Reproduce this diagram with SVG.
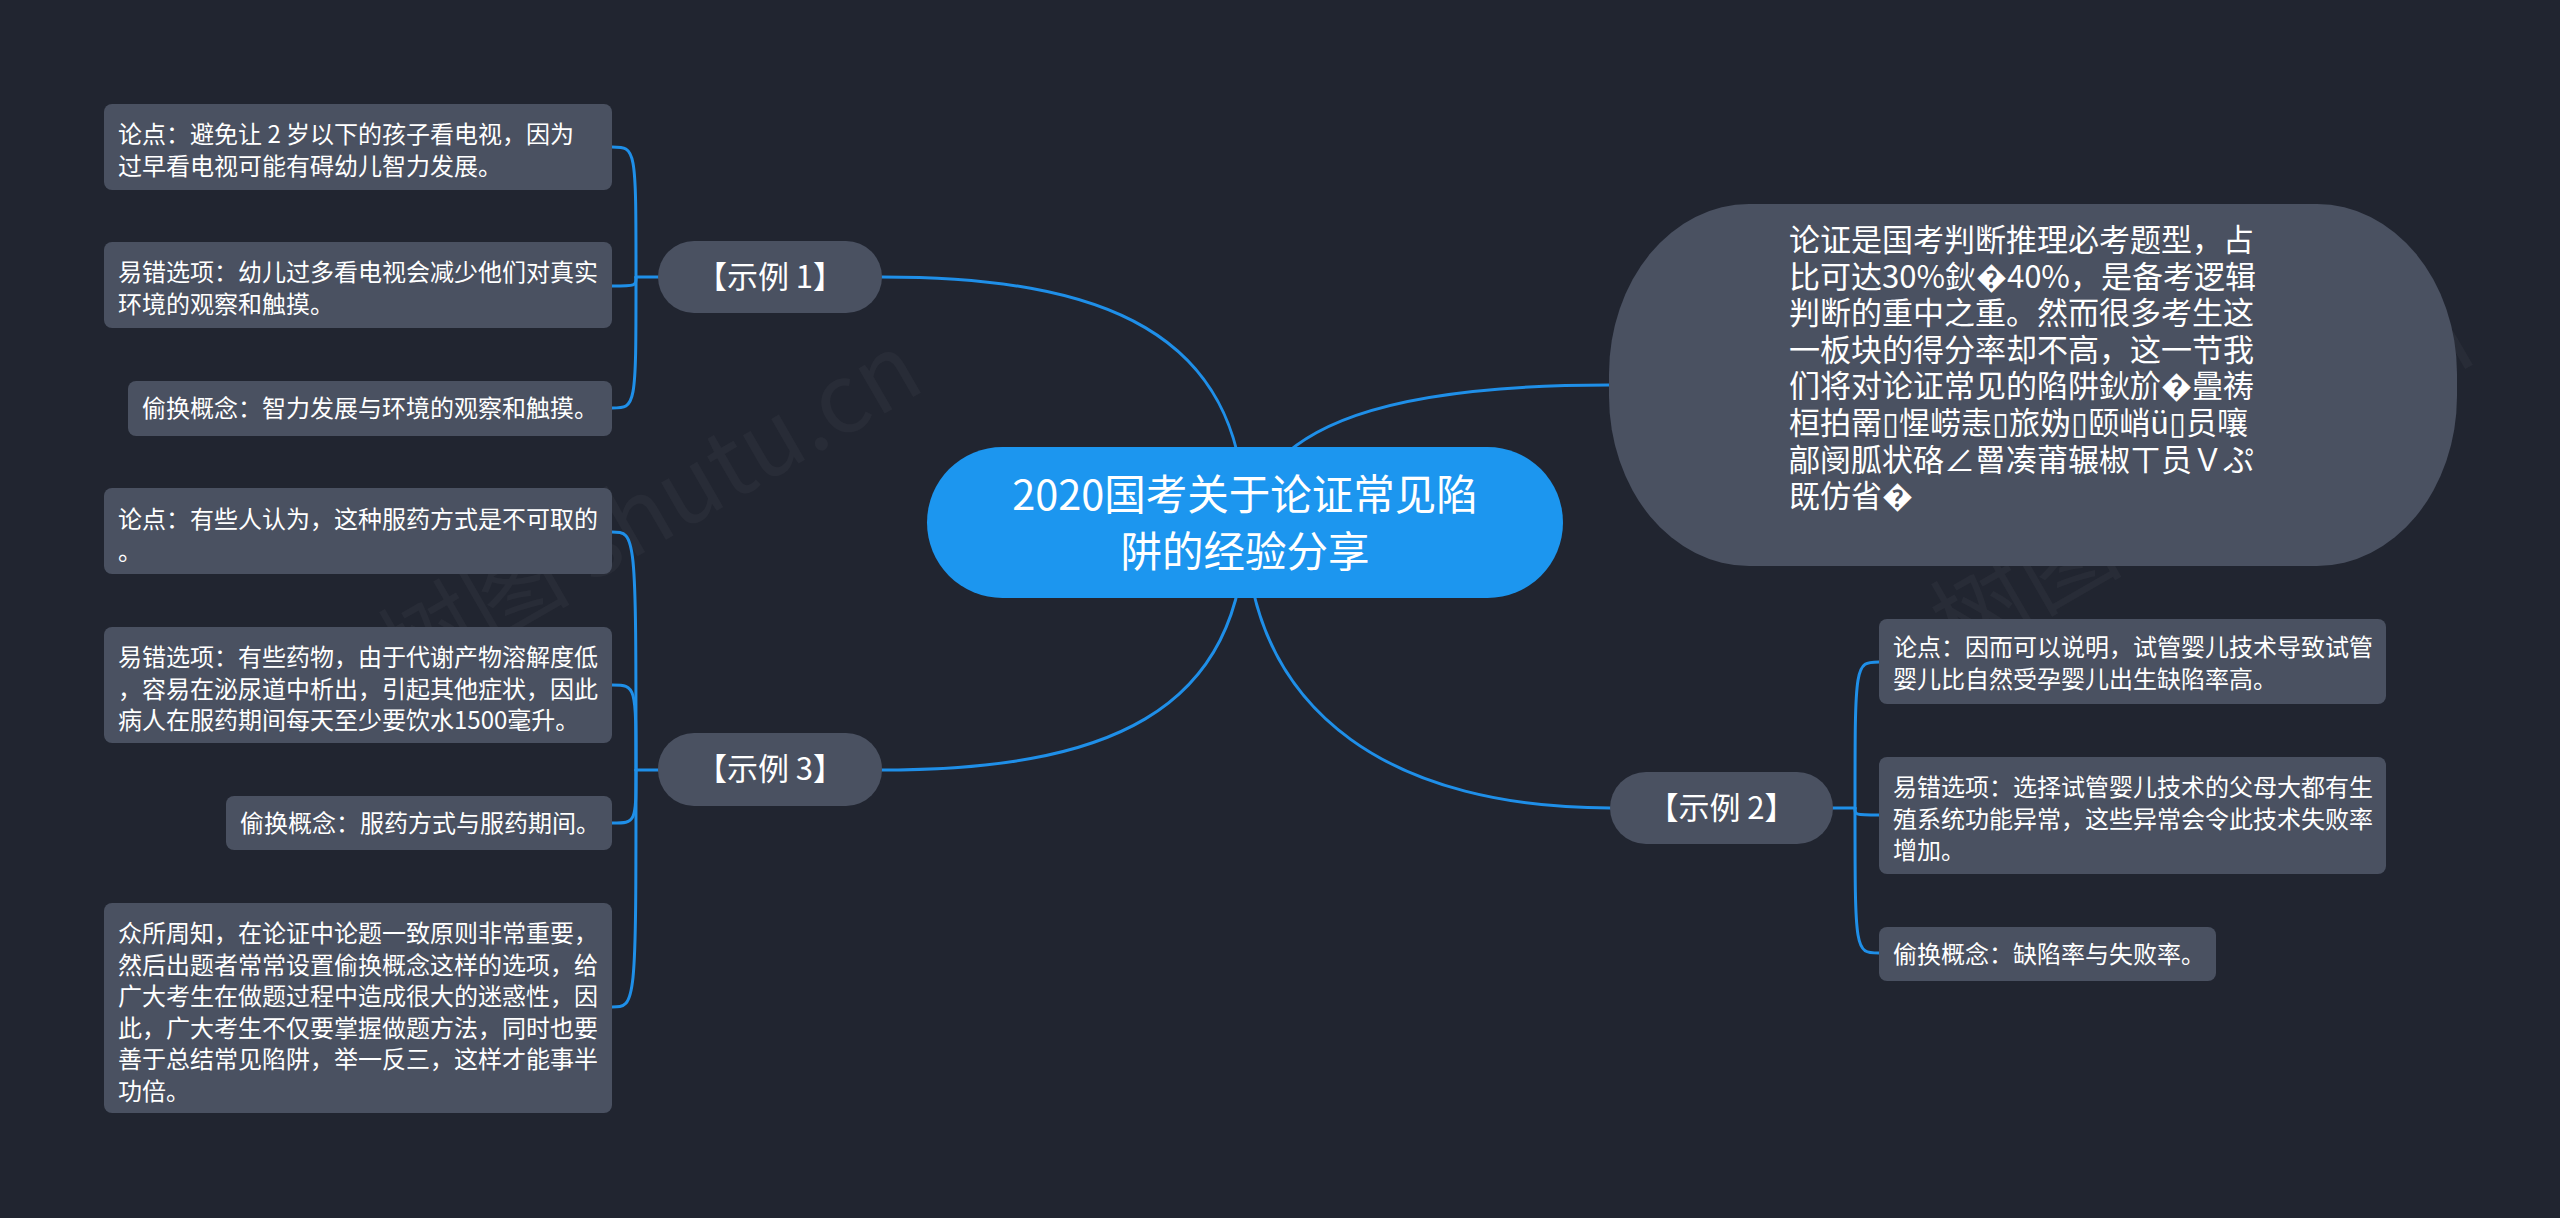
<svg xmlns="http://www.w3.org/2000/svg" width="2560" height="1218" viewBox="0 0 2560 1218">
<style>
.bg{fill:#212530}
.box{fill:#4a5161}
.root{fill:#1c96ef}
.t{font-family:"Noto Sans CJK SC","Noto Sans","DejaVu Sans",sans-serif;fill:#ffffff}
.s{font-size:24px}
.m{font-size:31px;text-anchor:middle}
.b{font-size:31px}
.r{font-size:41.5px;text-anchor:middle}
.c{fill:none;stroke:#1f8fe8;stroke-width:3;stroke-linecap:round}
.wm{font-family:"Noto Sans CJK SC","Noto Sans",sans-serif;font-size:96px;fill:#ffffff;fill-opacity:0.035}
</style>
<rect class="bg" x="0" y="0" width="2560" height="1218"/>
<text class="wm" transform="translate(406,690) rotate(-30)">树图 shutu.cn</text>
<text class="wm" transform="translate(1958,662) rotate(-30)">树图 shutu.cn</text>
<g id="connectors">
<path class="c" d="M1245 523 C1245 330 1100 277 882 277"/>
<path class="c" d="M1245 523 C1245 716 1100 770 882 770"/>
<path class="c" d="M1245 523 C1265 420 1400 385 1609 385"/>
<path class="c" d="M1245 523 C1250 720 1400 808 1610 808"/>
<path class="c" d="M658 277 H636"/>
<path class="c" d="M636 277 C636 147 636 147 612 147"/>
<path class="c" d="M636 277 C636 286 636 286 612 286"/>
<path class="c" d="M636 277 C636 408 636 408 612 408"/>
<path class="c" d="M658 770 H636"/>
<path class="c" d="M636 770 C636 532 636 532 612 532"/>
<path class="c" d="M636 770 C636 685 636 685 612 685"/>
<path class="c" d="M636 770 C636 823 636 823 612 823"/>
<path class="c" d="M636 770 C636 1007 636 1007 612 1007"/>
<path class="c" d="M1833 808 H1855"/>
<path class="c" d="M1855 808 C1855 662 1855 662 1879 662"/>
<path class="c" d="M1855 808 C1855 815 1855 815 1879 815"/>
<path class="c" d="M1855 808 C1855 953 1855 953 1879 953"/>
</g>
<g id="root">
<rect class="root" x="927" y="447" width="636" height="151" rx="75.5"/>
<text class="t r"><tspan x="1245" y="510">2020国考关于论证常见陷</tspan><tspan x="1245" y="567">阱的经验分享</tspan></text>
</g>
<g id="intro">
<rect class="box" x="1609" y="204" width="848" height="362" rx="140" ry="170"/>
<text class="t b"><tspan x="1789" y="251">论证是国考判断推理必考题型，占</tspan><tspan x="1789" y="287.6">比可达30%鈥�40%，是备考逻辑</tspan><tspan x="1789" y="324.2">判断的重中之重。然而很多考生这</tspan><tspan x="1789" y="360.8">一板块的得分率却不高，这一节我</tspan><tspan x="1789" y="397.4">们将对论证常见的陷阱鈥斺�曡祷</tspan><tspan x="1789" y="434">桓拍罱▯惺崂恚▯旅妫▯颐峭ü▯员嚷</tspan><tspan x="1789" y="470.6">鄗阌胍状硌∠罾凑莆辗椒ㄒ员Ｖぷ</tspan><tspan x="1789" y="507.2">既仿省�</tspan></text>
</g>
<g id="ex1">
<rect class="box" x="658" y="241" width="224" height="72" rx="36"/>
<text class="t m" x="770" y="288">【示例 1】</text>
</g>
<g id="ex1-a">
<rect class="box" x="104" y="104" width="508" height="86" rx="8"/>
<text class="t s"><tspan x="118" y="143">论点：避免让 2 岁以下的孩子看电视，因为</tspan><tspan x="118" y="175">过早看电视可能有碍幼儿智力发展。</tspan></text>
</g>
<g id="ex1-b">
<rect class="box" x="104" y="242" width="508" height="86" rx="8"/>
<text class="t s"><tspan x="118" y="281">易错选项：幼儿过多看电视会减少他们对真实</tspan><tspan x="118" y="313">环境的观察和触摸。</tspan></text>
</g>
<g id="ex1-c">
<rect class="box" x="128" y="381" width="484" height="55" rx="8"/>
<text class="t s" x="142" y="417">偷换概念：智力发展与环境的观察和触摸。</text>
</g>
<g id="ex3">
<rect class="box" x="658" y="733" width="224" height="73" rx="36"/>
<text class="t m" x="770" y="780">【示例 3】</text>
</g>
<g id="ex3-a">
<rect class="box" x="104" y="488" width="508" height="86" rx="8"/>
<text class="t s"><tspan x="118" y="528">论点：有些人认为，这种服药方式是不可取的</tspan><tspan x="118" y="560">。</tspan></text>
</g>
<g id="ex3-b">
<rect class="box" x="104" y="627" width="508" height="116" rx="8"/>
<text class="t s"><tspan x="118" y="666">易错选项：有些药物，由于代谢产物溶解度低</tspan><tspan x="118" y="697.5">，容易在泌尿道中析出，引起其他症状，因此</tspan><tspan x="118" y="729">病人在服药期间每天至少要饮水1500毫升。</tspan></text>
</g>
<g id="ex3-c">
<rect class="box" x="226" y="796" width="386" height="54" rx="8"/>
<text class="t s" x="240" y="832">偷换概念：服药方式与服药期间。</text>
</g>
<g id="ex3-d">
<rect class="box" x="104" y="903" width="508" height="210" rx="8"/>
<text class="t s"><tspan x="118" y="942">众所周知，在论证中论题一致原则非常重要，</tspan><tspan x="118" y="973.5">然后出题者常常设置偷换概念这样的选项，给</tspan><tspan x="118" y="1005">广大考生在做题过程中造成很大的迷惑性，因</tspan><tspan x="118" y="1036.5">此，广大考生不仅要掌握做题方法，同时也要</tspan><tspan x="118" y="1068">善于总结常见陷阱，举一反三，这样才能事半</tspan><tspan x="118" y="1099.5">功倍。</tspan></text>
</g>
<g id="ex2">
<rect class="box" x="1610" y="772" width="223" height="72" rx="36"/>
<text class="t m" x="1721.5" y="819">【示例 2】</text>
</g>
<g id="ex2-a">
<rect class="box" x="1879" y="619" width="507" height="85" rx="8"/>
<text class="t s"><tspan x="1893" y="656">论点：因而可以说明，试管婴儿技术导致试管</tspan><tspan x="1893" y="687.5">婴儿比自然受孕婴儿出生缺陷率高。</tspan></text>
</g>
<g id="ex2-b">
<rect class="box" x="1879" y="757" width="507" height="117" rx="8"/>
<text class="t s"><tspan x="1893" y="796">易错选项：选择试管婴儿技术的父母大都有生</tspan><tspan x="1893" y="827.5">殖系统功能异常，这些异常会令此技术失败率</tspan><tspan x="1893" y="859">增加。</tspan></text>
</g>
<g id="ex2-c">
<rect class="box" x="1879" y="927" width="337" height="54" rx="8"/>
<text class="t s" x="1893" y="963">偷换概念：缺陷率与失败率。</text>
</g>
</svg>
